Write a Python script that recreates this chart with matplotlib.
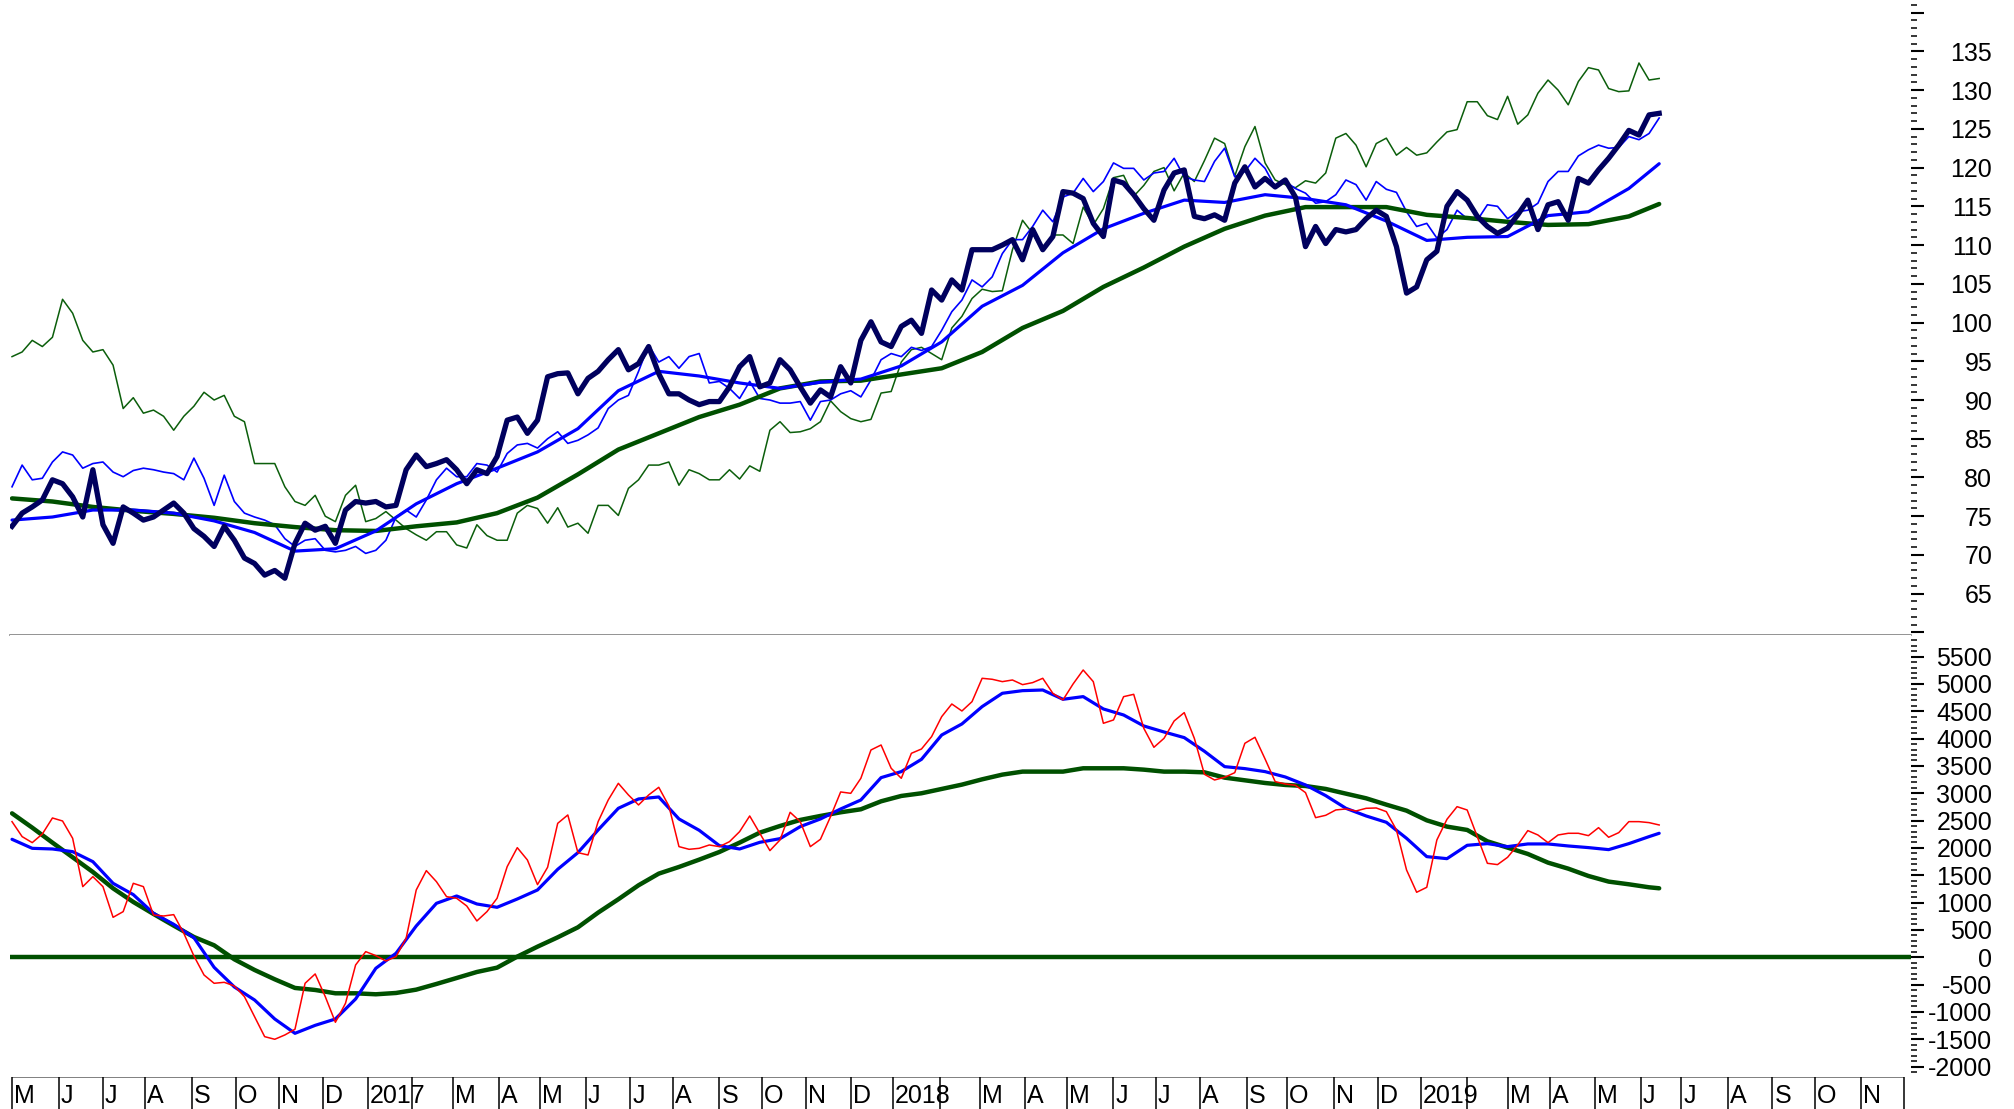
import numpy as np
import pandas as pd
import matplotlib
matplotlib.use("Agg")
from matplotlib import pyplot as plt
from matplotlib import transforms
from matplotlib.ticker import MultipleLocator, FuncFormatter

plt.rcParams["font.family"] = ["Liberation Sans", "DejaVu Sans"]

# weekly closes (Fridays)
weeks = pd.date_range("2016-04-29", "2019-06-14", freq="W-FRI")

price = [
    73.7, 75.4, 76.2, 77.1, 79.7, 79.2, 77.5, 74.9, 81.0, 73.9,
    71.5, 76.2, 75.4, 74.5, 74.9, 75.8, 76.7, 75.4, 73.4, 72.4,
    71.1, 73.7, 71.9, 69.6, 68.9, 67.4, 68.0, 67.0, 71.5, 74.1,
    73.2, 73.7, 71.5, 75.8, 76.9, 76.7, 76.9, 76.2, 76.4, 81.0,
    82.9, 81.4, 81.8, 82.3, 81.0, 79.2, 81.0, 80.5, 82.7, 87.4,
    87.8, 85.7, 87.4, 93.0, 93.4, 93.5, 90.8, 92.8, 93.7, 95.2,
    96.5, 93.9, 94.7, 96.9, 93.4, 90.8, 90.8, 90.0, 89.4, 89.8,
    89.8, 91.7, 94.3, 95.6, 91.7, 92.2, 95.2, 93.9, 91.7, 89.6,
    91.3, 90.4, 94.3, 92.2, 97.7, 100.1, 97.5, 96.9, 99.5, 100.3,
    98.6, 104.2, 102.9, 105.5, 104.2, 109.4, 109.4, 109.4, 110.0, 110.7,
    108.1, 112.0, 109.4, 111.1, 116.9, 116.7, 116.0, 112.8, 111.1, 118.4,
    118.0, 116.5, 114.7, 113.2, 117.1, 119.3, 119.7, 113.7, 113.4, 113.9,
    113.2, 118.0, 120.1, 117.5, 118.6, 117.5, 118.4, 116.2, 109.8, 112.4,
    110.2, 112.0, 111.7, 112.0, 113.4, 114.5, 113.7, 109.8, 103.8, 104.6,
    108.1, 109.2, 115.0, 116.9, 115.8, 113.7, 112.4, 111.5, 112.2, 113.9,
    115.8, 112.0, 115.2, 115.6, 113.2, 118.6, 118.0, 119.7, 121.2, 122.9,
    124.8, 124.2, 126.8, 127.0,
]

peer_blue = [
    78.8, 81.6, 79.7, 79.9, 82.0, 83.3, 82.9, 81.2, 81.8, 82.0,
    80.7, 80.1, 80.9, 81.2, 81.0, 80.7, 80.5, 79.7, 82.5, 79.9,
    76.4, 80.3, 76.9, 75.4, 74.9, 74.5, 73.9, 72.1, 71.1, 71.9,
    72.1, 70.6, 70.4, 70.6, 71.1, 70.2, 70.6, 71.9, 74.9, 75.8,
    74.9, 77.1, 79.7, 81.2, 80.1, 80.1, 81.8, 81.6, 80.7, 83.1,
    84.2, 84.4, 83.8, 85.0, 85.9, 84.4, 84.8, 85.5, 86.4, 88.9,
    90.0, 90.6, 93.7, 97.1, 94.9, 95.6, 94.1, 95.6, 96.0, 92.2,
    92.4, 91.5, 90.2, 92.4, 90.2, 90.0, 89.6, 89.6, 89.8, 87.4,
    89.8, 90.0, 90.8, 91.2, 90.4, 92.6, 95.2, 96.0, 95.6, 96.8,
    96.4, 96.9, 99.0, 101.4, 102.9, 105.5, 104.6, 105.9, 108.9, 110.7,
    110.7, 112.4, 114.5, 113.0, 116.2, 116.7, 118.6, 116.9, 118.2, 120.6,
    119.9, 119.9, 118.4, 119.3, 119.5, 121.2, 118.8, 118.4, 118.2, 120.8,
    122.5, 118.8, 119.5, 121.2, 119.9, 117.5, 118.2, 117.3, 116.7, 115.4,
    115.6, 116.5, 118.4, 117.8, 115.8, 118.2, 117.2, 116.8, 114.3, 112.4,
    112.8, 110.9, 112.0, 114.5, 113.4, 113.2, 115.2, 115.0, 113.4, 114.3,
    114.5, 115.4, 118.2, 119.5, 119.5, 121.5, 122.3, 122.9, 122.5, 122.6,
    124.0, 123.6, 124.4, 126.4,
]

peer_green = [
    95.6, 96.2, 97.7, 96.9, 98.1, 103.0, 101.2, 97.7, 96.2, 96.5,
    94.5, 88.9, 90.3, 88.3, 88.7, 87.9, 86.1, 87.9, 89.2, 91.0,
    90.0, 90.6, 87.9, 87.2, 81.8, 81.8, 81.8, 78.8, 76.9, 76.4,
    77.7, 75.0, 74.3, 77.7, 79.0, 74.3, 74.7, 75.6, 74.5, 73.4,
    72.6, 71.9, 73.0, 73.0, 71.3, 70.9, 73.9, 72.5, 71.9, 71.9,
    75.4, 76.4, 76.0, 74.1, 76.1, 73.6, 74.1, 72.8, 76.4, 76.4,
    75.1, 78.6, 79.7, 81.6, 81.6, 82.0, 79.0, 81.0, 80.5, 79.7,
    79.7, 81.0, 79.8, 81.5, 80.8, 86.1, 87.2, 85.8, 85.9, 86.3,
    87.2, 89.9, 88.5, 87.6, 87.2, 87.5, 90.9, 91.1, 94.9, 96.5,
    96.8, 96.0, 95.2, 99.3, 100.8, 103.1, 104.3, 104.0, 104.1, 109.4,
    113.2, 111.5, 109.2, 111.3, 111.3, 110.2, 114.9, 112.6, 114.7, 118.7,
    119.0, 116.3, 117.7, 119.5, 120.0, 117.0, 119.3, 118.2, 120.9, 123.8,
    123.1, 118.9, 122.7, 125.3, 120.6, 118.4, 117.8, 117.4, 118.3, 118.0,
    119.3, 123.8, 124.4, 122.9, 120.1, 123.1, 123.8, 121.6, 122.6, 121.6,
    121.9, 123.3, 124.6, 124.9, 128.5, 128.5, 126.7, 126.2, 129.2, 125.6,
    126.8, 129.6, 131.3, 130.0, 128.1, 131.1, 132.9, 132.6, 130.2, 129.8,
    129.9, 133.5, 131.3, 131.5,
]

osc = [
    2481, 2207, 2097, 2255, 2548, 2493, 2176, 1292, 1475, 1292,
    731, 835, 1353, 1292, 774, 755, 780, 438, 24, -324,
    -476, -458, -525, -720, -1086, -1452, -1500, -1421, -1317, -476,
    -305, -720, -1189, -842, -141, 103, 30, -68, 12, 347,
    1231, 1585, 1383, 1109, 1079, 938, 664, 835, 1079, 1658,
    2005, 1780, 1329, 1646, 2450, 2603, 1914, 1871, 2481, 2877,
    3182, 2969, 2786, 2969, 3109, 2768, 2024, 1975, 1993, 2054,
    2024, 2115, 2298, 2585, 2268, 1951, 2146, 2652, 2481, 2024,
    2158, 2573, 3024, 2999, 3274, 3792, 3883, 3457, 3274, 3731,
    3810, 4036, 4402, 4633, 4505, 4676, 5103, 5085, 5042, 5072,
    4987, 5024, 5103, 4828, 4707, 4999, 5255, 5042, 4280, 4341,
    4767, 4810, 4188, 3841, 4005, 4322, 4475, 4005, 3347, 3243,
    3292, 3377, 3914, 4024, 3627, 3213, 3170, 3146, 3012, 2554,
    2597, 2695, 2713, 2676, 2725, 2731, 2664, 2329, 1597, 1189,
    1280, 2146, 2524, 2755, 2694, 2207, 1719, 1695, 1829, 2054,
    2317, 2237, 2097, 2237, 2268, 2268, 2225, 2371, 2195, 2280,
    2481, 2481, 2463, 2420,
]

# moving averages, read every 4 weeks (upper) and every 2 weeks (lower)
ma_dates = list(weeks[::4]) + [weeks[-1]]
price_ma_short = [
    74.5, 74.9, 75.8, 75.8, 75.4, 74.4, 72.9, 70.5, 70.8, 73.1,
    76.6, 79.2, 81.2, 83.3, 86.3, 91.2, 93.7, 93.1, 92.2, 91.5,
    92.3, 92.7, 94.4, 97.5, 102.1, 104.8, 109.0, 112.1, 114.1, 115.8,
    115.5, 116.5, 116.0, 115.2, 113.1, 110.6, 111.0, 111.1, 113.8, 114.3,
    117.3, 120.5,
]
price_ma_long = [
    77.3, 76.9, 76.2, 75.7, 75.3, 74.8, 74.1, 73.6, 73.2, 73.1,
    73.7, 74.2, 75.4, 77.4, 80.4, 83.6, 85.7, 87.8, 89.4, 91.5,
    92.4, 92.5, 93.3, 94.1, 96.2, 99.3, 101.5, 104.6, 107.1, 109.8,
    112.1, 113.8, 114.9, 114.9, 114.9, 113.9, 113.5, 113.0, 112.6, 112.7,
    113.7, 115.3,
]

osc_dates = list(weeks[::2]) + [weeks[-1]]
osc_ma_short = [
    2158, 1993, 1981, 1932, 1749, 1353, 1146, 804, 603, 359,
    -184, -543, -781, -1129, -1391, -1245, -1129, -763, -202, 73,
    572, 987, 1121, 975, 914, 1066, 1231, 1609, 1914, 2329,
    2725, 2896, 2932, 2530, 2323, 2042, 1981, 2103, 2170, 2390,
    2530, 2713, 2877, 3286, 3396, 3621, 4066, 4268, 4585, 4829,
    4877, 4889, 4719, 4768, 4542, 4432, 4231, 4121, 4018, 3768,
    3487, 3451, 3396, 3298, 3152, 2957, 2725, 2585, 2469, 2176,
    1841, 1804, 2048, 2079, 2024, 2073, 2073, 2036, 2006, 1969,
    2079, 2207, 2268,
]
osc_ma_long = [
    2633, 2371, 2097, 1829, 1560, 1261, 1012, 792, 579, 371,
    219, -37, -232, -403, -561, -598, -659, -659, -677, -653,
    -592, -488, -379, -269, -190, 12, 194, 365, 548, 817,
    1061, 1317, 1530, 1652, 1786, 1926, 2097, 2280, 2402, 2512,
    2585, 2652, 2707, 2853, 2951, 3000, 3079, 3158, 3255, 3341,
    3396, 3396, 3396, 3457, 3457, 3457, 3432, 3396, 3396, 3383,
    3286, 3237, 3188, 3152, 3133, 3079, 2993, 2908, 2792, 2682,
    2505, 2390, 2329, 2121, 2006, 1890, 1731, 1621, 1487, 1384,
    1335, 1280, 1262,
]

month_starts = pd.date_range("2016-05-01", "2019-12-01", freq="MS")
month_labels = []
for d in month_starts[:-1]:
    if d.month == 1:
        month_labels.append(str(d.year))
    elif d.month == 2:
        month_labels.append("")
    else:
        month_labels.append("JFMAMJJASOND"[d.month - 1])

origin = np.datetime64("2016-05-02")


def tday(dates):
    # trading-day axis: weekdays counted from the first May session
    d = np.array(pd.DatetimeIndex(dates).values, dtype="datetime64[D]")
    return np.busday_count(origin, d)


NAVY = "#00005e"
BLUE = "#0000ff"
GREEN = "#0b5e0b"
DKGREEN = "#005000"
RED = "#ff0000"

W, H = 2015, 1109
fig = plt.figure(figsize=(W / 100, H / 100), dpi=100)


def box(l, t, r, b):
    return [l / W, 1 - b / H, (r - l) / W, (b - t) / H]


ax1 = fig.add_axes(box(10, 0, 1911, 635))
ax2 = fig.add_axes(box(10, 635, 1911, 1077))
ax3 = fig.add_axes(box(10, 1077, 1911, 1109))

xw = tday(weeks)
xm = tday(ma_dates)
xo = tday(osc_dates)

ax1.plot(xw, peer_green, color=GREEN, lw=1.1)
ax1.plot(xw, peer_blue, color=BLUE, lw=1.2)
ax1.plot(xm, price_ma_long, color=DKGREEN, lw=3.2, solid_capstyle="round",
         solid_joinstyle="round")
ax1.plot(xm, price_ma_short, color=BLUE, lw=2.3, solid_capstyle="round",
         solid_joinstyle="round")
ax1.plot(xw, price, color=NAVY, lw=3.8, solid_joinstyle="round")

ax2.axhline(0, color=DKGREEN, lw=3.2)
ax2.plot(xo, osc_ma_long, color=DKGREEN, lw=3.2, solid_capstyle="round",
         solid_joinstyle="round")
ax2.plot(xo, osc_ma_short, color=BLUE, lw=2.3, solid_capstyle="round",
         solid_joinstyle="round")
ax2.plot(xw, osc, color=RED, lw=1.1)

xlim = (-2, 938.6)
for ax in (ax1, ax2, ax3):
    ax.set_xlim(*xlim)
    ax.set_xticks([])
    for s in ax.spines.values():
        s.set_visible(False)

ax1.set_ylim(59.67, 141.63)
ax2.set_ylim(-2190, 5895)
ax1.spines["bottom"].set_visible(True)
ax1.spines["bottom"].set_color("#808080")
ax1.spines["bottom"].set_linewidth(1.2)
ax1.spines["bottom"].set_zorder(5)


def right_axis(ax, major, minor, lo, hi):
    ax.yaxis.tick_right()
    ax.yaxis.set_major_locator(MultipleLocator(major))
    ax.yaxis.set_minor_locator(MultipleLocator(minor))
    ax.yaxis.set_major_formatter(
        FuncFormatter(lambda v, p: f"{v:.0f}" if lo <= v <= hi else ""))
    ax.tick_params(axis="y", which="major", direction="out", length=9.5,
                   width=1.5, pad=49, labelsize=18, colors="black")
    ax.tick_params(axis="y", which="minor", direction="out", length=4.5,
                   width=1.1)
    plt.setp(ax.get_yticklabels(), ha="right")


right_axis(ax1, 5, 1, 65, 135)
right_axis(ax2, 500, 100, -2000, 5500)

# month strip under the chart
ax3.set_ylim(0, 1)
ax3.set_yticks([])
xs = tday(month_starts)
ax3.hlines(1, xs[0], xs[-1], color="#808080", lw=1.4)
shift = transforms.offset_copy(ax3.transData, fig=fig, x=2, y=0, units="dots")
for x, lab in zip(xs[:-1], month_labels):
    ax3.text(x, 0.42, lab, transform=shift, ha="left", va="center",
             fontsize=18, color="black", zorder=1)
ax3.vlines(xs, 0, 1, color="black", lw=1.1, zorder=3)

fig.savefig("out.png", dpi=100)
